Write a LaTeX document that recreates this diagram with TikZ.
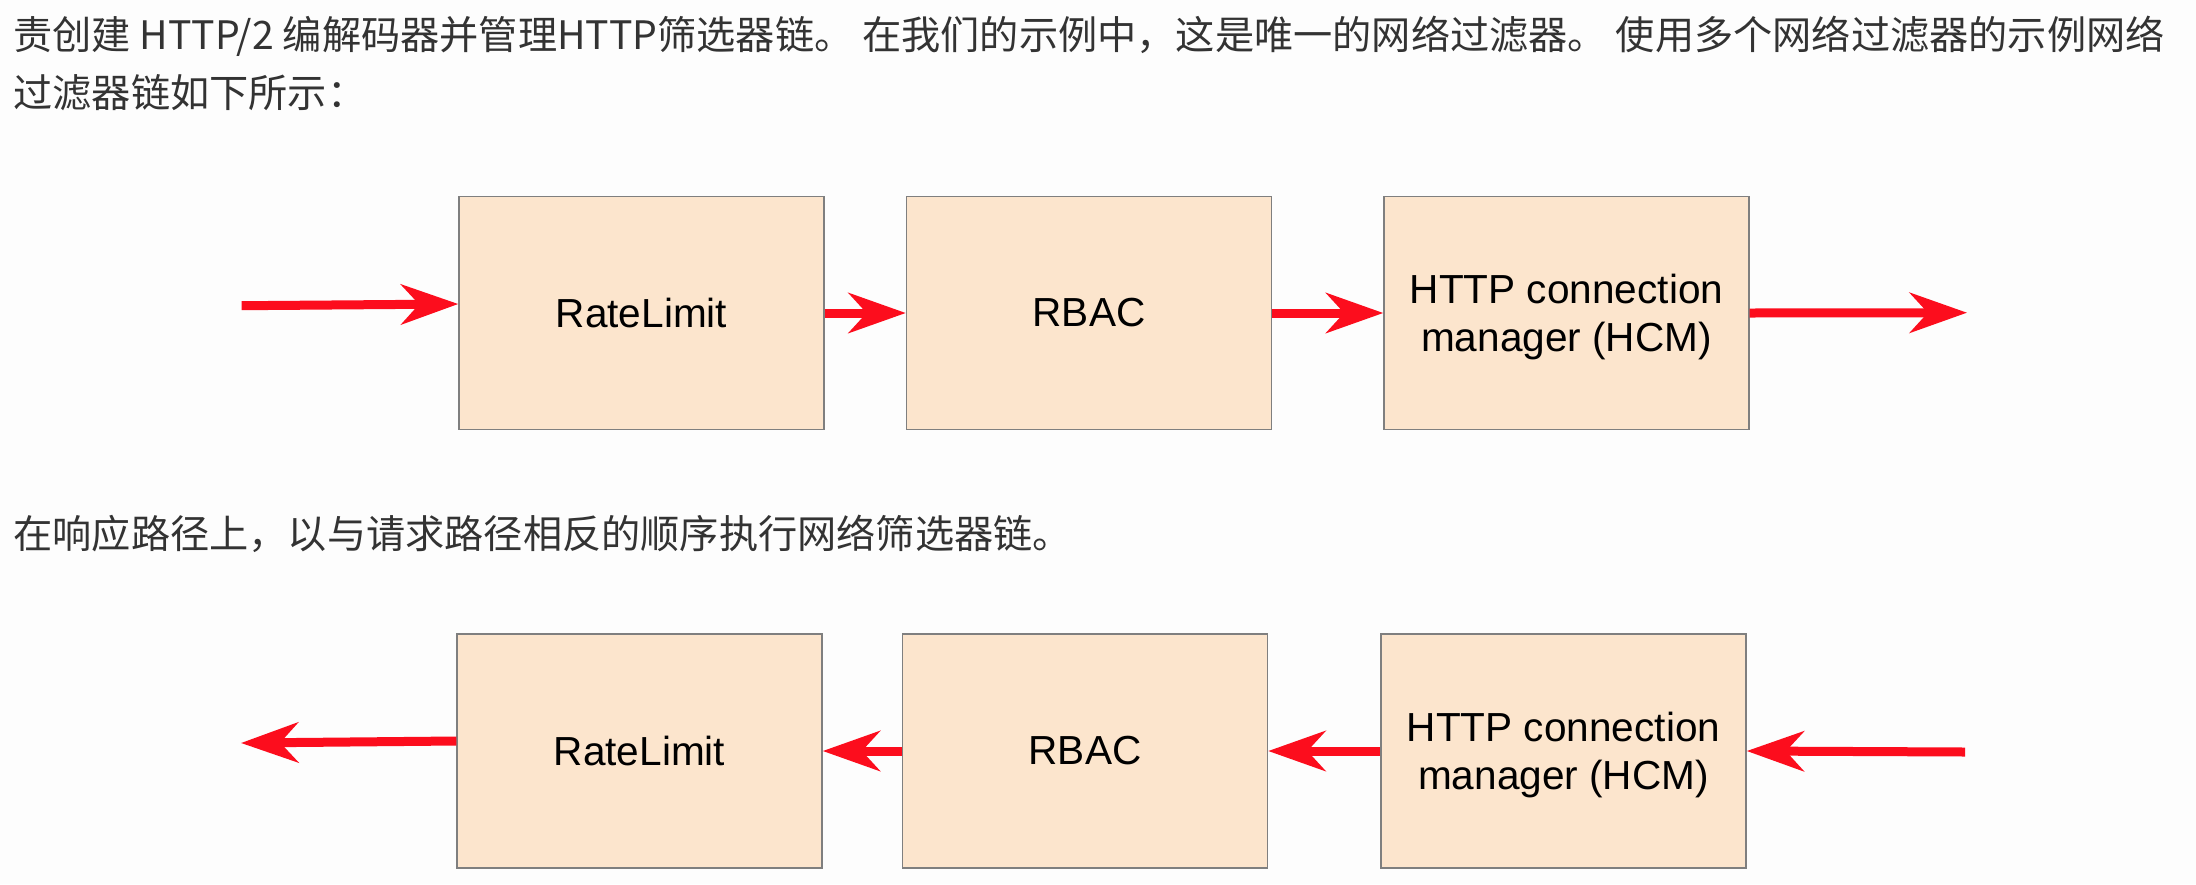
\documentclass[tikz,border=0pt]{standalone}
\usepackage{fontspec}
\setmainfont{Liberation Sans}
\newfontfamily\cjk{Noto Sans CJK SC}
\usetikzlibrary{arrows.meta}
\definecolor{peach}{HTML}{FCE5CD}
\definecolor{boxline}{HTML}{7F7F7F}
\definecolor{arrowred}{HTML}{FC0D1D}
\definecolor{bodytext}{HTML}{333333}
\definecolor{bg}{HTML}{FDFDFD}
\tikzset{
  filterbox/.style={draw=boxline, line width=0.5pt, fill=peach, minimum width=127.75pt,
    minimum height=81.5pt, inner sep=0pt, align=center,
    font=\fontsize{14.2pt}{16.8pt}\selectfont, text=black},
  twoline/.style={text depth=0pt},
  flow/.style={draw=arrowred, line width=3.15pt,
    -{Stealth[length=20pt, width=14pt, inset=6.3pt, fill=arrowred]}},
  para/.style={anchor=base west, inner sep=0pt, text=bodytext,
    font=\cjk\fontsize{13.72pt}{16pt}\selectfont}
}
\begin{document}
\begin{tikzpicture}[x=0.35pt, y=-0.35pt]
\fill[bg] (0,0) rectangle (2196,884);
\useasboundingbox (0,0) rectangle (2196,884);

\node[para] (t1) at (13,49) {责创建 HTTP/2 编解码器并管理HTTP筛选器链。 在我们的示例中，这是唯一的网络过滤器。 使用多个网络过滤器的示例网络};
\node[para] (t2) at (13,107) {过滤器链如下所示：};
\node[para] (t3) at (13,548) {在响应路径上，以与请求路径相反的顺序执行网络筛选器链。};

% request path
\node[filterbox] (rl1) at (641.5,313) {RateLimit};
\node[filterbox] (rbac1) at (1089,313) {RBAC};
\node[filterbox, twoline] (hcm1) at (1566.5,313) {HTTP connection\\manager (HCM)};
\coordinate (in1) at (241.6,305.7);
\coordinate (out1) at (1967,312.7);
\draw[flow] (in1) -- ([yshift=3.15pt]rl1.west);
\draw[flow] (rl1.east) -- (rbac1.west);
\draw[flow] (rbac1.east) -- (hcm1.west);
\draw[flow] (hcm1.east) -- (out1);

% response path
\node[filterbox, minimum height=82pt] (rl2) at (639.5,751) {RateLimit};
\node[filterbox, minimum height=82pt] (rbac2) at (1085,751) {RBAC};
\node[filterbox, twoline, minimum height=82pt] (hcm2) at (1563.5,751) {HTTP connection\\manager (HCM)};
\coordinate (in2) at (1965,752);
\coordinate (out2) at (241,743);
\draw[flow] (in2) -- (hcm2.east);
\draw[flow] (hcm2.west) -- (rbac2.east);
\draw[flow] (rbac2.west) -- (rl2.east);
\draw[flow] ([yshift=3.5pt]rl2.west) -- (out2);
\end{tikzpicture}
\end{document}
